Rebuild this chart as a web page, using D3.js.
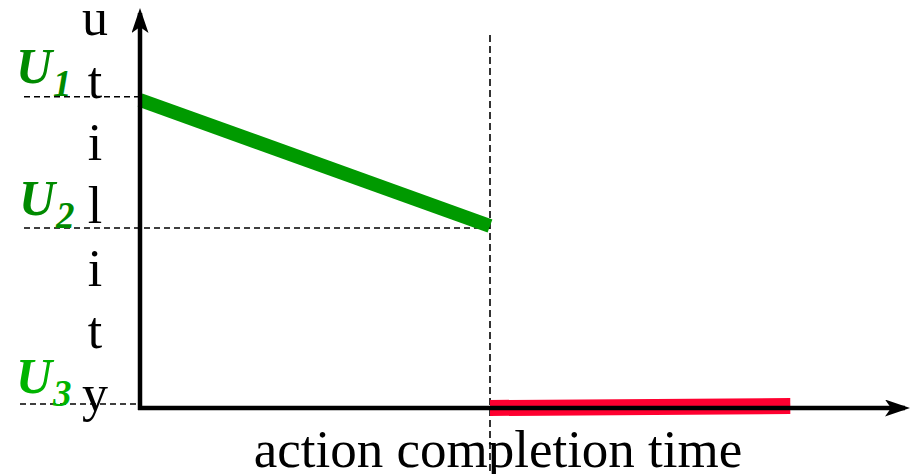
<!DOCTYPE html>
<html>
<head>
<meta charset="utf-8">
<script src="https://cdn.jsdelivr.net/npm/d3@7"></script>
<style>
  body { margin: 0; background: #fff; }
  svg text { font-family: "Liberation Serif", "Times New Roman", serif; }
</style>
</head>
<body>
<script>
// utility levels (y units) and times (x units)
const levelNames = ['U1', 'U2', 'U3'];
const levelValues = [7.78, 4.5, 0.1];
const levelColors = ['#008a00', '#008a00', '#00b400'];
const completionTime = 5;
const greenSeries = [{ t: 0, u: 7.7 }, { t: 5, u: 4.55 }];
const redSeries = [{ t: 5, u: 0 }, { t: 9.29, u: 0.05 }];
const yLetters = ['u', 't', 'i', 'l', 'i', 't', 'y'];
const xLabel = 'action completion time';

const width = 913, height = 474;
const svg = d3.select('body').append('svg')
  .attr('width', width)
  .attr('height', height);

const x = d3.scaleLinear().domain([0, 11]).range([140, 910]);
const y = d3.scaleLinear().domain([0, 10]).range([408, 8]);

// arrow head: 25 long, 17 wide, tip sits 5px past the line end
const defs = svg.append('defs');
defs.append('marker')
  .attr('id', 'arrow')
  .attr('viewBox', '0 0 25 17')
  .attr('refX', 20).attr('refY', 8.5)
  .attr('markerWidth', 25).attr('markerHeight', 17)
  .attr('markerUnits', 'userSpaceOnUse')
  .attr('orient', 'auto')
  .append('path')
  .attr('d', 'M0,0 L25,8.5 L0,17 L6,8.5 Z')
  .attr('fill', '#000');

const line = d3.line().x(d => x(d.t)).y(d => y(d.u));

// dashed guides for each level
svg.selectAll('.guide')
  .data(levelValues)
  .enter()
  .append('line')
  .attr('class', 'guide')
  .attr('x1', (d, i) => i === 2 ? 20 : 24)
  .attr('x2', (d, i) => i === 1 ? x(completionTime) : x(0))
  .attr('y1', d => y(d))
  .attr('y2', d => y(d))
  .attr('stroke', '#000')
  .attr('stroke-width', 1.6)
  .attr('stroke-dasharray', '6,4');

// vertical dashed line at completion time
svg.append('line')
  .attr('x1', x(completionTime)).attr('x2', x(completionTime))
  .attr('y1', 35).attr('y2', height)
  .attr('stroke', '#000')
  .attr('stroke-width', 1.6)
  .attr('stroke-dasharray', '7,4');

// series
svg.append('path')
  .attr('d', line(greenSeries))
  .attr('fill', 'none')
  .attr('stroke', '#009a00')
  .attr('stroke-width', 14);

svg.append('path')
  .attr('d', line(redSeries))
  .attr('fill', 'none')
  .attr('stroke', '#ff0030')
  .attr('stroke-width', 16);

// axes
svg.append('line')
  .attr('x1', x(0)).attr('y1', y(0) + 2)
  .attr('x2', x(0)).attr('y2', y(10) + 5)
  .attr('stroke', '#000').attr('stroke-width', 4.5)
  .attr('marker-end', 'url(#arrow)');

svg.append('line')
  .attr('x1', x(0) - 2).attr('y1', y(0))
  .attr('x2', x(11) - 5).attr('y2', y(0))
  .attr('stroke', '#000').attr('stroke-width', 4.5)
  .attr('marker-end', 'url(#arrow)');

// vertical "utility" label, one letter per row
const letterY = d3.scalePoint().domain(d3.range(yLetters.length)).range([35, 411]);
svg.selectAll('.ylet')
  .data(yLetters)
  .enter()
  .append('text')
  .attr('class', 'ylet')
  .attr('x', 95)
  .attr('y', (d, i) => letterY(i))
  .attr('text-anchor', 'middle')
  .style('font-size', '52px')
  .text(d => d);

// U labels
const ulab = svg.selectAll('.ulab')
  .data(levelNames)
  .enter()
  .append('text')
  .attr('class', 'ulab')
  .attr('x', (d, i) => i === 1 ? 19 : 16)
  .attr('y', (d, i) => y(levelValues[i]) - [14, 13, 11][i])
  .attr('fill', (d, i) => levelColors[i])
  .style('font-weight', 'bold')
  .style('font-style', 'italic')
  .style('font-size', '50px');
ulab.append('tspan').text(d => d[0]);
ulab.append('tspan')
  .attr('dy', 13)
  .attr('dx', 1)
  .style('font-size', '37px')
  .text(d => d.slice(1));

// x label
svg.append('text')
  .attr('x', 498)
  .attr('y', 467)
  .attr('text-anchor', 'middle')
  .style('font-size', '53px')
  .text(xLabel);
</script>
</body>
</html>
